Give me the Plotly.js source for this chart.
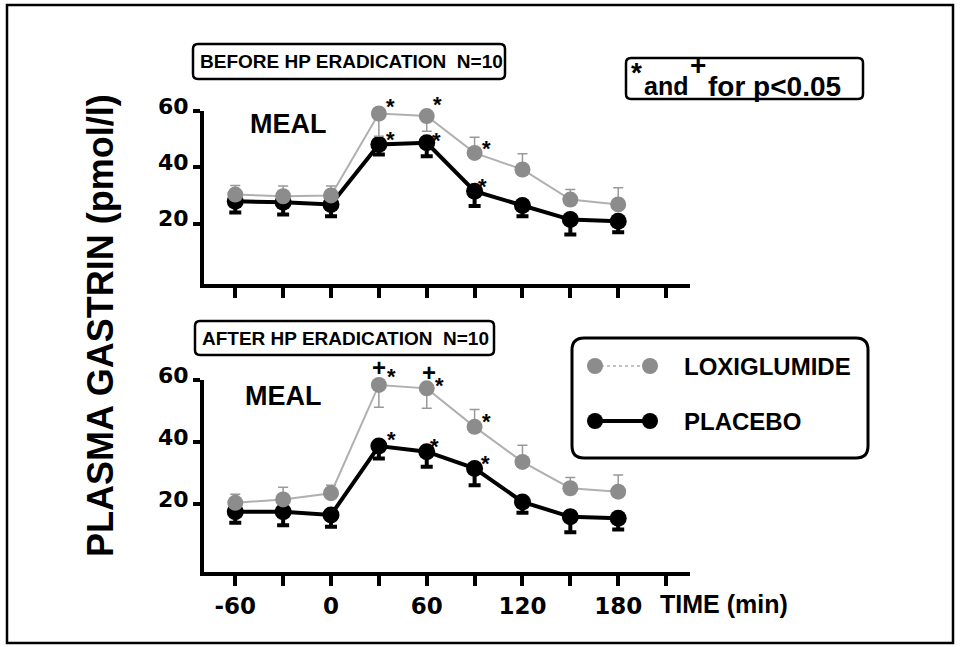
<!DOCTYPE html>
<html>
<head>
<meta charset="utf-8">
<script src="https://cdn.plot.ly/plotly-3.0.1.min.js"></script>
<style>html,body{margin:0;padding:0;background:#fff;}#chart{width:960px;height:647px;}</style>
</head>
<body>
<div id="chart"></div>
<script>
// ---- data ----
const times = [-60, -30, 0, 30, 60, 90, 120, 150, 180];
const majorTicks = [-60, 0, 60, 120, 180];
const majorLabels = ['-60', '0', '60', '120', '180'];
const minorTicks = [-30, 30, 90, 150, 210];
const yTicks = [20, 40, 60];

const beforeLoxi        = [30.3, 29.7, 30.0, 59.1, 58.2, 45.1, 39.2, 28.5, 26.8];
const beforeLoxiErrUp   = [3.2, 3.6, 3.3, 0, 0, 5.6, 5.6, 3.6, 5.9];
const beforeLoxiErrDown = [0, 0, 0, 8.1, 5.4, 0, 0, 0, 0];
const beforePlac        = [27.9, 27.6, 26.8, 48.1, 48.7, 31.5, 26.4, 21.4, 20.8];
const beforePlacErrDown = [4.0, 4.4, 4.2, 3.6, 4.8, 5.3, 3.8, 5.3, 3.9];

const afterLoxi         = [20.4, 21.5, 23.5, 58.4, 57.3, 44.9, 33.6, 25.1, 24.0];
const afterLoxiErrUp    = [2.8, 3.9, 2.6, 0, 0, 5.6, 5.4, 3.5, 5.4];
const afterLoxiErrDown  = [0, 0, 0, 7.2, 6.4, 0, 0, 0, 0];
const afterPlac         = [17.5, 17.5, 16.5, 38.7, 36.9, 31.5, 20.7, 15.9, 15.4];
const afterPlacErrDown  = [3.5, 4.3, 3.8, 4.0, 4.9, 5.4, 3.5, 5.0, 3.6];

// significance marks (times)
const sigBeforeLoxi = [30, 60, 90];
const sigBeforePlac = [30, 60, 90];
const sigAfterLoxiPlus = [30, 60];
const sigAfterLoxi = [30, 60, 90];
const sigAfterPlac = [30, 60, 90];

const seriesNames = ['LOXIGLUMIDE', 'PLACEBO'];
const panelTitles = ['BEFORE HP ERADICATION  N=10', 'AFTER HP ERADICATION  N=10'];

// ---- styling ----
const BLACK = '#000000';
const GREYM = '#8c8c8c';
const GREYL = '#b0b0b0';
const ZERO = times.map(() => 0);
const SANS = 'Liberation Sans, Arial, sans-serif';
const DJV = 'DejaVu Sans, sans-serif';

// layout geometry (pixels)
const L = 204, R = 270, T = 111, B = 75, W = 960, H = 647;
const PW = W - L - R, PH = H - T - B;
const px = x => (x - L) / PW;
const py = y => (H - B - y) / PH;

function loxiTrace(y, up, down, xa, ya) {
  return {
    x: times, y: y, xaxis: xa, yaxis: ya, type: 'scatter', mode: 'lines+markers',
    name: seriesNames[0], showlegend: false, cliponaxis: false,
    line: {color: GREYL, width: 2},
    marker: {color: GREYM, size: 16, line: {width: 0}},
    error_y: {type: 'data', symmetric: false, array: up, arrayminus: down,
              color: '#999999', thickness: 1.5, width: 5}
  };
}
function placTrace(y, down, xa, ya) {
  return {
    x: times, y: y, xaxis: xa, yaxis: ya, type: 'scatter', mode: 'lines+markers',
    name: seriesNames[1], showlegend: false, cliponaxis: false,
    line: {color: BLACK, width: 4},
    marker: {color: BLACK, size: 17, line: {width: 0}},
    error_y: {type: 'data', symmetric: false, array: ZERO, arrayminus: down,
              color: BLACK, thickness: 4, width: 6}
  };
}

const traces = [
  placTrace(beforePlac, beforePlacErrDown, 'x', 'y'),
  loxiTrace(beforeLoxi, beforeLoxiErrUp, beforeLoxiErrDown, 'x', 'y'),
  placTrace(afterPlac, afterPlacErrDown, 'x2', 'y2'),
  loxiTrace(afterLoxi, afterLoxiErrUp, afterLoxiErrDown, 'x2', 'y2')
];

const xCommon = {
  range: [-79.6, 225.0], showgrid: false, zeroline: false,
  showline: true, linecolor: BLACK, linewidth: 4,
  ticks: 'outside', ticklen: 10, tickwidth: 4, tickcolor: BLACK,
  tickmode: 'array', tickvals: majorTicks, ticktext: majorLabels,
  minor: {tickmode: 'array', tickvals: minorTicks, ticks: 'outside', ticklen: 10, tickwidth: 4, tickcolor: BLACK, showgrid: false},
  tickfont: {family: DJV, size: 23, color: BLACK, weight: 'bold'}
};
const yCommon = {
  showgrid: false, zeroline: false, showline: true, linecolor: BLACK, linewidth: 4,
  ticks: 'outside', ticklen: 7, tickwidth: 4, tickcolor: BLACK,
  tickmode: 'array', tickvals: yTicks, ticktext: yTicks.map(String),
  ticklabelshift: -5,
  tickfont: {family: DJV, size: 22, color: BLACK, weight: 'bold'}
};

const annotations = [];
function txt(x, y, text, size, opts) {
  annotations.push(Object.assign({
    xref: 'paper', yref: 'paper', x: px(x), y: py(y), text: text, showarrow: false,
    xanchor: 'left', yanchor: 'middle', borderpad: 0,
    font: {family: SANS, size: size, color: BLACK, weight: 'bold'}
  }, opts || {}));
}
function mark(xa, ya, t, val, sym, dx, dy, size) {
  annotations.push({
    xref: xa, yref: ya, x: t, y: val, text: sym, showarrow: false,
    xanchor: 'center', yanchor: 'middle', xshift: dx, yshift: dy,
    font: {family: SANS, size: size, color: BLACK, weight: 'bold'}
  });
}
const valAt = (arr, t) => arr[times.indexOf(t)];

// panel titles & labels
txt(199, 62, panelTitles[0], 19);
txt(201, 338, panelTitles[1], 19);
txt(249, 124, 'MEAL', 27);
txt(244, 396, 'MEAL', 27);
txt(630, 73, '*', 28);
txt(643, 86, 'and', 25);
txt(689, 66, '+', 28);
txt(707, 86, 'for p&lt;0.05', 28);
txt(659, 604, 'TIME (min)', 25);
txt(683, 366, seriesNames[0], 24);
txt(683, 421, seriesNames[1], 24);
annotations.push({
  xref: 'paper', yref: 'paper', x: px(100), y: py(326), text: 'PLASMA GASTRIN (pmol/l)',
  showarrow: false, textangle: -90, xanchor: 'center', yanchor: 'middle',
  font: {family: SANS, size: 36, color: BLACK, weight: 'bold'}
});

// significance marks
sigBeforeLoxi.forEach((t, i) => mark('x', 'y', t, valAt(beforeLoxi, t), '*', [12, 11, 12][i], [7, 12, 4][i], 22));
sigBeforePlac.forEach((t, i) => mark('x', 'y', t, valAt(beforePlac, t), '*', [12, 10, 8][i], [5, 2, 5][i], 22));
sigAfterLoxiPlus.forEach((t, i) => mark('x2', 'y2', t, valAt(afterLoxi, t), '+', [0, 2][i], [17, 16][i], 24));
sigAfterLoxi.forEach((t, i) => mark('x2', 'y2', t, valAt(afterLoxi, t), '*', [13, 13, 12][i], [8, 3, 5][i], 22));
sigAfterPlac.forEach((t, i) => mark('x2', 'y2', t, valAt(afterPlac, t), '*', [13, 8, 11][i], [7, 5, 5][i], 22));

// shapes: frame, boxes, legend
function rrect(x0, y0, x1, y1, r, w) {
  const X = px, Y = py;
  const path = `M ${X(x0 + r)},${Y(y0)} L ${X(x1 - r)},${Y(y0)} Q ${X(x1)},${Y(y0)} ${X(x1)},${Y(y0 + r)} ` +
    `L ${X(x1)},${Y(y1 - r)} Q ${X(x1)},${Y(y1)} ${X(x1 - r)},${Y(y1)} L ${X(x0 + r)},${Y(y1)} ` +
    `Q ${X(x0)},${Y(y1)} ${X(x0)},${Y(y1 - r)} L ${X(x0)},${Y(y0 + r)} Q ${X(x0)},${Y(y0)} ${X(x0 + r)},${Y(y0)} Z`;
  return {type: 'path', xref: 'paper', yref: 'paper', path: path, line: {color: BLACK, width: w}};
}
const shapes = [
  {type: 'rect', xref: 'paper', yref: 'paper', x0: px(7), x1: px(953), y0: py(643), y1: py(5), line: {color: BLACK, width: 2.5}},
  rrect(193, 44, 505, 79, 5, 2.5),
  rrect(195, 321, 494, 355, 5, 2.5),
  rrect(626, 58, 863, 99, 5, 2.5),
  rrect(572, 338, 868, 458, 12, 3),
  {type: 'line', xref: 'paper', yref: 'paper', x0: px(595), x1: px(650), y0: py(366), y1: py(366), line: {color: GREYL, width: 1.5, dash: 'dot'}},
  {type: 'line', xref: 'paper', yref: 'paper', x0: px(595), x1: px(650), y0: py(421), y1: py(421), line: {color: BLACK, width: 4}}
];
[[595, 366, GREYM], [650, 366, GREYM], [595, 421, BLACK], [650, 421, BLACK]].forEach(([cx, cy, c]) => {
  shapes.push({type: 'circle', xref: 'paper', yref: 'paper', x0: px(cx - 8), x1: px(cx + 8), y0: py(cy + 8), y1: py(cy - 8),
               fillcolor: c, line: {width: 0}});
});

const layout = {
  width: W, height: H, margin: {l: L, r: R, t: T, b: B},
  paper_bgcolor: '#ffffff', plot_bgcolor: 'rgba(0,0,0,0)', showlegend: false,
  xaxis: Object.assign({}, xCommon, {anchor: 'y', showticklabels: false}),
  yaxis: Object.assign({}, yCommon, {domain: [py(284), 1], range: [-1.5, 60], anchor: 'x'}),
  xaxis2: Object.assign({}, xCommon, {anchor: 'y2'}),
  yaxis2: Object.assign({}, yCommon, {domain: [0, py(380)], range: [-1.9, 60], anchor: 'x2'}),
  annotations: annotations, shapes: shapes
};

Plotly.newPlot('chart', traces, layout, {displayModeBar: false, staticPlot: true});
</script>
</body>
</html>
